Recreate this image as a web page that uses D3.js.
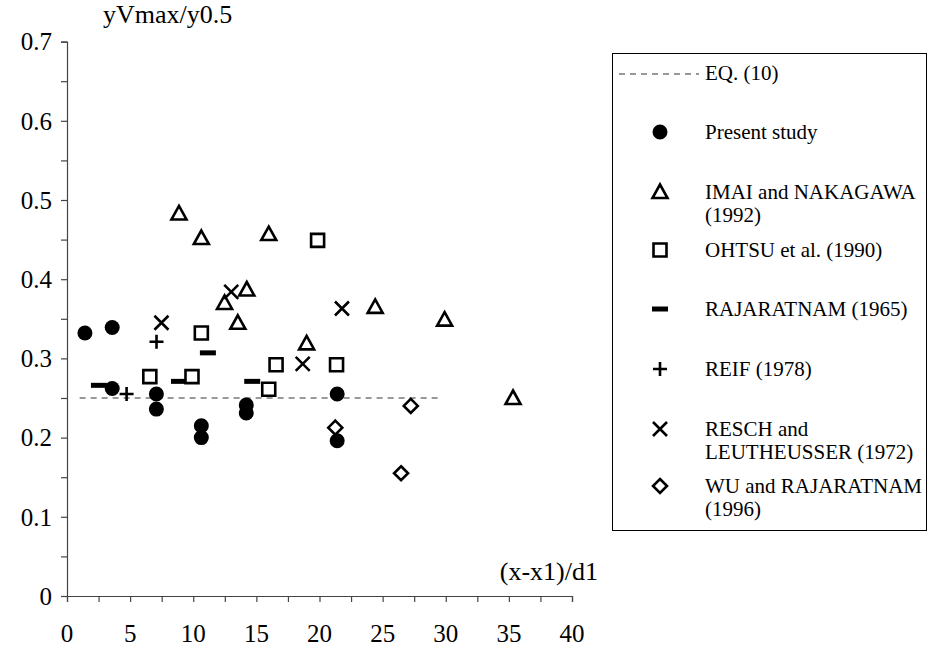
<!DOCTYPE html>
<html>
<head>
<meta charset="utf-8">
<script src="https://cdn.jsdelivr.net/npm/d3@7"></script>
<style>
  html, body { margin: 0; padding: 0; background: #fff; }
  svg { display: block; font-family: "Liberation Serif", "Times New Roman", serif; }
</style>
</head>
<body>
<svg id="chart" width="927" height="650"></svg>
<script>
// ---- Data ----
const xTicks = [0, 5, 10, 15, 20, 25, 30, 35, 40];
const yTicks = [0, 0.1, 0.2, 0.3, 0.4, 0.5, 0.6, 0.7];
const yTickLabels = ["0", "0.1", "0.2", "0.3", "0.4", "0.5", "0.6", "0.7"];

const eqLine = [[1.0, 0.25], [29.5, 0.25]];

const presentStudy = [[1.42, 0.332], [3.58, 0.339], [3.58, 0.262], [7.08, 0.255], [7.08, 0.236],
  [10.64, 0.215], [10.64, 0.200], [14.2, 0.241], [14.2, 0.231], [21.4, 0.255], [21.4, 0.196]];
const imaiNakagawa = [[8.87, 0.483], [10.64, 0.452], [15.98, 0.457], [14.24, 0.387], [12.48, 0.370],
  [13.53, 0.345], [18.98, 0.319], [24.41, 0.365], [29.91, 0.349], [35.33, 0.250]];
const ohtsu = [[6.56, 0.277], [9.90, 0.277], [10.64, 0.332], [16.56, 0.292], [15.98, 0.261],
  [19.85, 0.449], [21.35, 0.292]];
const rajaratnam = [[2.53, 0.266], [8.87, 0.271], [11.16, 0.307], [14.67, 0.271]];
const reif = [[7.09, 0.321], [4.72, 0.255]];
const resch = [[7.48, 0.345], [13.01, 0.384], [18.67, 0.293], [21.78, 0.363]];
const wuRajaratnam = [[21.25, 0.2125], [27.23, 0.240], [26.46, 0.155]];

const legendLabels = {
  eq: ["EQ. (10)"],
  circle: ["Present study"],
  triangle: ["IMAI and NAKAGAWA", "(1992)"],
  square: ["OHTSU et al. (1990)"],
  dash: ["RAJARATNAM (1965)"],
  plus: ["REIF (1978)"],
  cross: ["RESCH and", "LEUTHEUSSER (1972)"],
  diamond: ["WU and RAJARATNAM", "(1996)"]
};

// ---- Layout ----
const svg = d3.select("#chart");
const x = d3.scaleLinear().domain([0, 40]).range([67, 572]);
const y = d3.scaleLinear().domain([0, 0.7]).range([596, 41.6]);
const axisColor = "#444";
const tickFont = 25;
const titleFont = 26;
const legendFont = 21;

// Marker path generators (geometry only)
const markers = {
  circle: (cx, cy) => `M${cx + 7.5},${cy}A7.5,7.5 0 1,1 ${cx - 7.5},${cy}A7.5,7.5 0 1,1 ${cx + 7.5},${cy}Z`,
  triangle: (cx, cy) => `M${cx},${cy - 7.5}L${cx + 7.5},${cy + 6}L${cx - 7.5},${cy + 6}Z`,
  square: (cx, cy) => `M${cx - 6.5},${cy - 6.5}H${cx + 6.5}V${cy + 6.5}H${cx - 6.5}Z`,
  dash: (cx, cy) => `M${cx - 8},${cy - 2.5}H${cx + 8}V${cy + 2.5}H${cx - 8}Z`,
  plus: (cx, cy) => `M${cx - 7},${cy}H${cx + 7}M${cx},${cy - 7}V${cy + 7}`,
  cross: (cx, cy) => `M${cx - 7},${cy - 7}L${cx + 7},${cy + 7}M${cx + 7},${cy - 7}L${cx - 7},${cy + 7}`,
  diamond: (cx, cy) => `M${cx},${cy - 7}L${cx + 7},${cy}L${cx},${cy + 7}L${cx - 7},${cy}Z`
};
const markerStyle = {
  circle: { fill: "#000", stroke: "none", sw: 0 },
  triangle: { fill: "#fff", stroke: "#000", sw: 2.6 },
  square: { fill: "#fff", stroke: "#000", sw: 2.6 },
  dash: { fill: "#000", stroke: "none", sw: 0 },
  plus: { fill: "none", stroke: "#000", sw: 2.6 },
  cross: { fill: "none", stroke: "#000", sw: 2.6 },
  diamond: { fill: "#fff", stroke: "#000", sw: 2.6 }
};

// ---- Axes ----
const yAxis = d3.axisLeft(y)
  .tickValues(d3.range(0, 0.7001, 0.05))
  .tickSize(6)
  .tickFormat(() => "");
const gy = svg.append("g").attr("transform", `translate(${x(0)},0)`).call(yAxis);
gy.select(".domain").attr("stroke", axisColor).attr("stroke-width", 1.2);
gy.selectAll(".tick line").attr("stroke", axisColor).attr("stroke-width", 1.2);

svg.append("g").selectAll("text").data(yTicks).join("text")
  .attr("x", 52).attr("y", d => y(d)).attr("dy", "0.35em")
  .attr("text-anchor", "end").attr("font-size", tickFont)
  .text((d, i) => yTickLabels[i]);

const xAxis = d3.axisBottom(x)
  .tickValues(d3.range(0, 40.001, 2.5))
  .tickSize(6)
  .tickFormat(() => "");
const gx = svg.append("g").attr("transform", `translate(0,${y(0)})`).call(xAxis);
gx.select(".domain").attr("stroke", axisColor).attr("stroke-width", 1.2);
gx.selectAll(".tick line").attr("stroke", axisColor).attr("stroke-width", 1.2);

svg.append("g").selectAll("text").data(xTicks).join("text")
  .attr("x", d => x(d)).attr("y", 642)
  .attr("text-anchor", "middle").attr("font-size", tickFont)
  .text(d => d);

// Axis titles
svg.append("text").attr("x", 103).attr("y", 23).attr("font-size", titleFont).text("yVmax/y0.5");
svg.append("text").attr("x", 598).attr("y", 580).attr("text-anchor", "end").attr("font-size", titleFont).text("(x-x1)/d1");

// ---- EQ line ----
svg.append("path")
  .attr("d", d3.line().x(d => x(d[0])).y(d => y(d[1]))(eqLine))
  .attr("fill", "none").attr("stroke", "#333").attr("stroke-width", 1)
  .attr("stroke-dasharray", "6,5");

// ---- Series ----
const series = [
  { key: "diamond", data: wuRajaratnam },
  { key: "plus", data: reif },
  { key: "dash", data: rajaratnam },
  { key: "square", data: ohtsu },
  { key: "triangle", data: imaiNakagawa },
  { key: "cross", data: resch },
  { key: "circle", data: presentStudy }
];
series.forEach(s => {
  const st = markerStyle[s.key];
  svg.append("g").selectAll("path").data(s.data).join("path")
    .attr("d", d => markers[s.key](x(d[0]), y(d[1])))
    .attr("fill", st.fill).attr("stroke", st.stroke).attr("stroke-width", st.sw)
    .attr("stroke-linejoin", "miter");
});

// ---- Legend ----
const lg = svg.append("g");
lg.append("rect").attr("x", 612.5).attr("y", 53.5).attr("width", 314).attr("height", 477)
  .attr("fill", "#fff").attr("stroke", "#000").attr("stroke-width", 1);

const legendRows = [
  { key: "eq", y: 73 },
  { key: "circle", y: 132 },
  { key: "triangle", y: 192 },
  { key: "square", y: 250 },
  { key: "dash", y: 309 },
  { key: "plus", y: 369 },
  { key: "cross", y: 429 },
  { key: "diamond", y: 486 }
];
legendRows.forEach(r => {
  if (r.key === "eq") {
    lg.append("line").attr("x1", 619).attr("x2", 699).attr("y1", r.y + 1).attr("y2", r.y + 1)
      .attr("stroke", "#333").attr("stroke-width", 1).attr("stroke-dasharray", "6,5");
  } else {
    const st = markerStyle[r.key];
    lg.append("path").attr("d", markers[r.key](660, r.y))
      .attr("fill", st.fill).attr("stroke", st.stroke).attr("stroke-width", st.sw);
  }
  const t = lg.append("text").attr("x", 705).attr("y", r.y).attr("font-size", legendFont);
  legendLabels[r.key].forEach((line, i) => {
    t.append("tspan").attr("x", 705).attr("dy", i === 0 ? "0.35em" : "1.1em").text(line);
  });
});
</script>
</body>
</html>
